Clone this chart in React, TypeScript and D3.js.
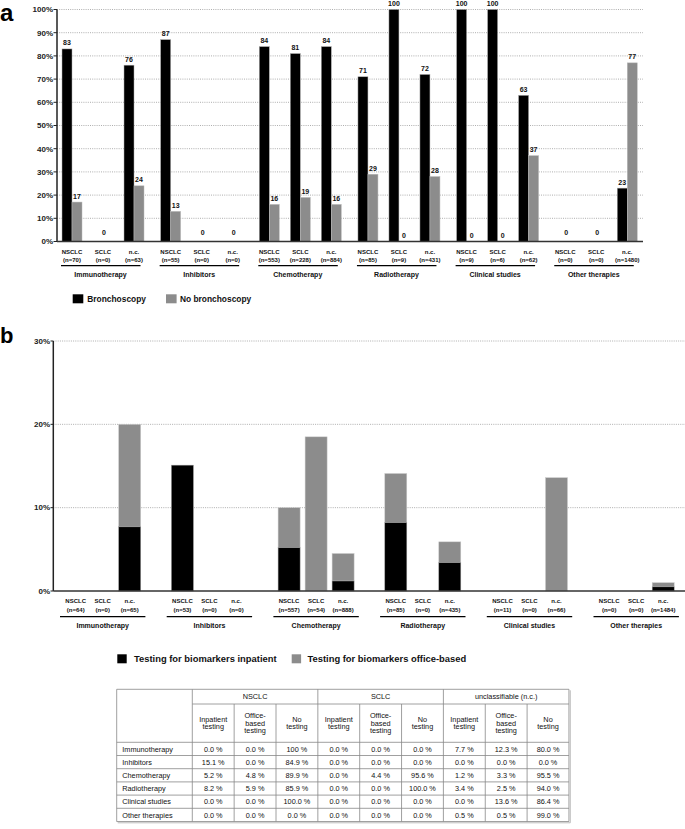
import React from "react";
import * as d3 from "d3";

const groups = ["Immunotherapy", "Inhibitors", "Chemotherapy", "Radiotherapy", "Clinical studies", "Other therapies"];
const subtypes = ["NSCLC", "SCLC", "n.c."];

// Panel a
const nA = [[70, 0, 63], [55, 0, 0], [553, 228, 884], [85, 9, 431], [9, 6, 62], [0, 0, 1480]];
const bronchoscopy = [[83, 0, 76], [87, 0, 0], [84, 81, 84], [71, 100, 72], [100, 100, 63], [0, 0, 23]];
const noBronchoscopy = [[17, 0, 24], [13, 0, 0], [16, 19, 16], [29, 0, 28], [0, 0, 37], [0, 0, 77]];
const ticksA = [0, 10, 20, 30, 40, 50, 60, 70, 80, 90, 100];

// Panel b
const nB = [[64, 0, 65], [53, 0, 0], [557, 54, 888], [85, 0, 435], [11, 0, 66], [0, 0, 1484]];
const inpatient = [[0, 0, 7.7], [15.1, 0, 0], [5.2, 0, 1.2], [8.2, 0, 3.4], [0, 0, 0], [0, 0, 0.5]];
const officeBased = [[0, 0, 12.3], [0, 0, 0], [4.8, 18.5, 3.3], [5.9, 0, 2.5], [0, 0, 13.6], [0, 0, 0.5]];
const ticksB = [0, 10, 20, 30];

// Table
const tableGroups = ["NSCLC", "SCLC", "unclassifiable (n.c.)"];
const tableCols = [["Inpatient", "testing"], ["Office-", "based", "testing"], ["No", "testing"]];
const tableNSCLC = [["0.0 %", "0.0 %", "100 %"], ["15.1 %", "0.0 %", "84.9 %"], ["5.2 %", "4.8 %", "89.9 %"], ["8.2 %", "5.9 %", "85.9 %"], ["0.0 %", "0.0 %", "100.0 %"], ["0.0 %", "0.0 %", "0.0 %"]];
const tableSCLC = [["0.0 %", "0.0 %", "0.0 %"], ["0.0 %", "0.0 %", "0.0 %"], ["0.0 %", "4.4 %", "95.6 %"], ["0.0 %", "0.0 %", "100.0 %"], ["0.0 %", "0.0 %", "0.0 %"], ["0.0 %", "0.0 %", "0.0 %"]];
const tableNC = [["7.7 %", "12.3 %", "80.0 %"], ["0.0 %", "0.0 %", "0.0 %"], ["1.2 %", "3.3 %", "95.5 %"], ["3.4 %", "2.5 %", "94.0 %"], ["0.0 %", "13.6 %", "86.4 %"], ["0.5 %", "0.5 %", "99.0 %"]];

const FONT = "'Liberation Sans', Arial, sans-serif";
const GRAY = "#8c8c8c";

function PanelA() {
  const y = d3.scaleLinear().domain([0, 100]).range([241.5, 9.5]);
  const xG = d3.scaleBand().domain(groups).range([56.5, 56.5 + 6 * 98.65]);
  const xS = d3.scaleBand().domain(subtypes).range([0, 93]);
  const axisX0 = 57, axisX1 = 643;
  const bw = 10;
  const els: any[] = [];
  ticksA.forEach((t) => {
    if (t > 0)
      els.push(<line key={"g" + t} x1={axisX0} x2={axisX1} y1={y(t)} y2={y(t)} stroke="#999" strokeWidth={0.8} strokeDasharray="1,1.2" />);
    els.push(<line key={"tm" + t} x1={53.5} x2={axisX0} y1={y(t)} y2={y(t)} stroke="#222" strokeWidth={1} />);
    els.push(<text key={"tl" + t} x={53} y={y(t) + 2.8} textAnchor="end" fontSize={8} fontWeight="bold" fill="#222">{t}%</text>);
  });
  groups.forEach((g, gi) => {
    const g0 = xG(g)!;
    subtypes.forEach((s, si) => {
      const c = g0 + xS(s)! + xS.bandwidth() / 2;
      const b = bronchoscopy[gi][si];
      const nb = noBronchoscopy[gi][si];
      els.push(<rect key={`b${gi}${si}`} x={c - bw} y={y(b)} width={bw} height={y(0) - y(b)} fill="#000" stroke="#aaa" strokeWidth={0.5} />);
      els.push(<rect key={`n${gi}${si}`} x={c} y={y(nb)} width={bw} height={y(0) - y(nb)} fill={GRAY} stroke="#bbb" strokeWidth={0.5} />);
      if (b === 0 && nb === 0) {
        els.push(<text key={`l0${gi}${si}`} x={c + 1} y={y(0) - 6.5} textAnchor="middle" fontSize={7} fontWeight="bold" fill="#111">0</text>);
      } else {
        els.push(<text key={`lb${gi}${si}`} x={c - bw / 2} y={y(b) - 3.5} textAnchor="middle" fontSize={7} fontWeight="bold" fill="#111">{b}</text>);
        els.push(<text key={`ln${gi}${si}`} x={c + bw / 2} y={y(nb) - 3.5} textAnchor="middle" fontSize={7} fontWeight="bold" fill="#111">{nb}</text>);
      }
      els.push(<text key={`s${gi}${si}`} x={c} y={253.8} textAnchor="middle" fontSize={6} fontWeight="bold" fill="#111">{s}</text>);
      els.push(<text key={`nn${gi}${si}`} x={c} y={262.1} textAnchor="middle" fontSize={6} fontWeight="bold" fill="#111">(n={nA[gi][si]})</text>);
    });
    els.push(<line key={"ul" + gi} x1={g0 + 4.5} x2={g0 + 84} y1={265.7} y2={265.7} stroke="#000" strokeWidth={1.3} />);
    els.push(<text key={"gn" + gi} x={g0 + 44} y={276.5} textAnchor="middle" fontSize={7} fontWeight="bold" fill="#111">{g}</text>);
  });
  return (
    <g>
      <text x={0} y={21} fontSize={24} fontWeight="bold" fill="#000">a</text>
      {els}
      <line x1={axisX0} x2={axisX0} y1={y(100)} y2={y(0)} stroke="#222" strokeWidth={1.5} />
      <line x1={axisX0} x2={axisX1} y1={y(0)} y2={y(0)} stroke="#333" strokeWidth={1.5} />
      <rect x={72.7} y={294.3} width={10.6} height={9} fill="#000" />
      <text x={87.3} y={302.2} fontSize={8.4} fontWeight="bold" fill="#111">Bronchoscopy</text>
      <rect x={166} y={294.3} width={10.6} height={9} fill={GRAY} />
      <text x={180} y={302.2} fontSize={8.4} fontWeight="bold" fill="#111">No bronchoscopy</text>
    </g>
  );
}

function PanelB() {
  const y = d3.scaleLinear().domain([0, 30]).range([591, 341]);
  const xG = d3.scaleBand().domain(groups).range([62.2, 62.2 + 6 * 106.7]);
  const xS = d3.scaleBand().domain(subtypes).range([0, 81]);
  const axisX0 = 53.3, axisX1 = 685;
  const bw = 22;
  const els: any[] = [];
  ticksB.forEach((t) => {
    if (t > 0)
      els.push(<line key={"g" + t} x1={axisX0} x2={axisX1} y1={y(t)} y2={y(t)} stroke="#999" strokeWidth={0.8} strokeDasharray="1,1.2" />);
    els.push(<line key={"tm" + t} x1={50.5} x2={axisX0} y1={y(t)} y2={y(t)} stroke="#222" strokeWidth={1} />);
    els.push(<text key={"tl" + t} x={50} y={y(t) + 2.8} textAnchor="end" fontSize={8} fontWeight="bold" fill="#222">{t}%</text>);
  });
  groups.forEach((g, gi) => {
    const g0 = xG(g)!;
    subtypes.forEach((s, si) => {
      const c = g0 + xS(s)! + xS.bandwidth() / 2;
      const a = inpatient[gi][si];
      const o = officeBased[gi][si];
      if (o > 0)
        els.push(<rect key={`o${gi}${si}`} x={c - bw / 2} y={y(a + o)} width={bw} height={y(a) - y(a + o)} fill={GRAY} stroke="#ccc" strokeWidth={0.5} />);
      if (a > 0)
        els.push(<rect key={`a${gi}${si}`} x={c - bw / 2} y={y(a)} width={bw} height={y(0) - y(a)} fill="#000" stroke="#999" strokeWidth={0.5} />);
      els.push(<text key={`s${gi}${si}`} x={c} y={603.2} textAnchor="middle" fontSize={6} fontWeight="bold" fill="#111">{s}</text>);
      els.push(<text key={`nn${gi}${si}`} x={c} y={611.5} textAnchor="middle" fontSize={6} fontWeight="bold" fill="#111">(n={nB[gi][si]})</text>);
    });
    els.push(<line key={"ul" + gi} x1={g0 - 2.2} x2={g0 + 83.2} y1={616.7} y2={616.7} stroke="#000" strokeWidth={1.3} />);
    els.push(<text key={"gn" + gi} x={g0 + 40.5} y={628.2} textAnchor="middle" fontSize={7} fontWeight="bold" fill="#111">{g}</text>);
  });
  return (
    <g>
      <text x={0} y={343} fontSize={22} fontWeight="bold" fill="#000">b</text>
      {els}
      <line x1={axisX0} x2={axisX0} y1={y(30)} y2={y(0)} stroke="#222" strokeWidth={1.5} />
      <line x1={axisX0} x2={axisX1} y1={y(0)} y2={y(0)} stroke="#333" strokeWidth={1.5} />
      <rect x={117.3} y={654.3} width={9.4} height={9} fill="#000" />
      <text x={134} y={662.3} fontSize={9.4} fontWeight="bold" fill="#111">Testing for biomarkers inpatient</text>
      <rect x={291.7} y={654.3} width={9.4} height={9} fill={GRAY} />
      <text x={307.5} y={662.3} fontSize={9.4} fontWeight="bold" fill="#111">Testing for biomarkers office-based</text>
    </g>
  );
}

function Table() {
  const x0 = 116.7, labelW = 75.6, colW = 41.85;
  const y0 = 689.3, h1 = 14.7, h2 = 38.3, rh = 13.2;
  const nCols = 9;
  const xRight = x0 + labelW + nCols * colW;
  const yHead2 = y0 + h1;
  const yBody = yHead2 + h2;
  const yBottom = yBody + groups.length * rh;
  const colX = (i: number) => x0 + labelW + i * colW;
  const stroke = "#888";
  const fs = 7.3;
  const els: any[] = [];
  els.push(<line key="hTop" x1={x0} x2={xRight} y1={y0} y2={y0} stroke={stroke} strokeWidth={0.8} />);
  els.push(<line key="hH1" x1={colX(0)} x2={xRight} y1={yHead2} y2={yHead2} stroke={stroke} strokeWidth={0.8} />);
  for (let r = 0; r <= groups.length; r++) {
    const yy = yBody + r * rh;
    els.push(<line key={"h" + r} x1={x0} x2={xRight} y1={yy} y2={yy} stroke={stroke} strokeWidth={0.8} />);
  }
  els.push(<line key="vL" x1={x0} x2={x0} y1={y0} y2={yBottom} stroke={stroke} strokeWidth={0.8} />);
  for (let i = 0; i <= nCols; i++) {
    const top = i % 3 === 0 ? y0 : yHead2;
    els.push(<line key={"v" + i} x1={colX(i)} x2={colX(i)} y1={top} y2={yBottom} stroke={stroke} strokeWidth={0.8} />);
  }
  els.push(<line key="shR" x1={xRight + 1.3} x2={xRight + 1.3} y1={y0 + 1} y2={yBottom + 1.3} stroke="#bbb" strokeWidth={1} />);
  els.push(<line key="shB" x1={x0 + 1} x2={xRight + 1.3} y1={yBottom + 1.3} y2={yBottom + 1.3} stroke="#bbb" strokeWidth={1} />);
  tableGroups.forEach((tg, i) => {
    els.push(<text key={"tg" + i} x={colX(i * 3) + 1.5 * colW} y={y0 + h1 / 2 + 2.6} textAnchor="middle" fontSize={fs} fill="#111">{tg}</text>);
    tableCols.forEach((lines, j) => {
      const cx = colX(i * 3 + j) + colW / 2;
      const lh = 7.4;
      const start = yHead2 + h2 / 2 - ((lines.length - 1) * lh) / 2 + 2.6;
      lines.forEach((ln, k) => {
        els.push(<text key={`th${i}${j}${k}`} x={cx} y={start + k * lh} textAnchor="middle" fontSize={fs} fill="#111">{ln}</text>);
      });
    });
  });
  const blocks = [tableNSCLC, tableSCLC, tableNC];
  groups.forEach((g, r) => {
    const yy = yBody + r * rh + rh / 2 + 2.6;
    els.push(<text key={"rl" + r} x={x0 + 5.6} y={yy} fontSize={fs} fill="#111">{g}</text>);
    blocks.forEach((blk, bi) => {
      blk[r].forEach((v, j) => {
        els.push(<text key={`c${r}${bi}${j}`} x={colX(bi * 3 + j) + colW / 2} y={yy} textAnchor="middle" fontSize={fs} fill="#111">{v}</text>);
      });
    });
  });
  return <g>{els}</g>;
}

export default function App() {
  return (
    <svg width={685} height={829} style={{ position: "absolute", left: 0, top: 0, background: "#fff" }} fontFamily={FONT}>
      <rect x={0} y={0} width={685} height={829} fill="#fff" />
      <PanelA />
      <PanelB />
      <Table />
    </svg>
  );
}
